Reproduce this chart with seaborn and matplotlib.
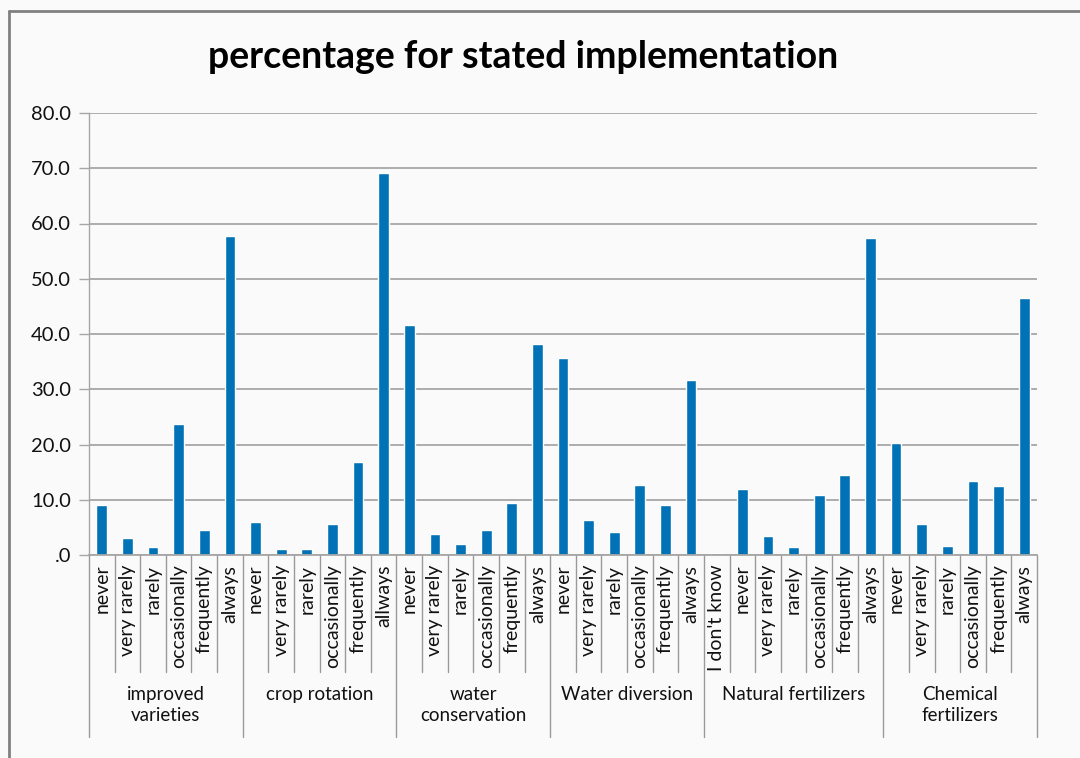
import matplotlib
matplotlib.use("Agg")
import matplotlib.pyplot as plt
import matplotlib.transforms as mtransforms
from matplotlib.lines import Line2D
from matplotlib.ticker import FuncFormatter
import seaborn as sns
import pandas as pd

# ---- data ----
groups = ["improved\nvarieties", "crop rotation", "water\nconservation",
          "Water diversion", "Natural fertilizers", "Chemical\nfertilizers"]
labels_improved = ["never", "very rarely", "rarely", "occasionally", "frequently", "always"]
labels_rotation = ["never", "very rarely", "rarely", "occasionally", "frequently", "allways"]
labels_water_cons = ["never", "very rarely", "rarely", "occasionally", "frequently", "always"]
labels_water_div = ["never", "very rarely", "rarely", "occasionally", "frequently", "always"]
labels_natural = ["I don't know", "never", "very rarely", "rarely", "occasionally", "frequently", "always"]
labels_chemical = ["never", "very rarely", "rarely", "occasionally", "frequently", "always"]

values_improved = [9.0, 3.1, 1.4, 23.7, 4.5, 57.8]
values_rotation = [5.9, 1.0, 1.0, 5.6, 16.9, 69.2]
values_water_cons = [41.7, 3.8, 2.0, 4.5, 9.4, 38.2]
values_water_div = [35.6, 6.3, 4.2, 12.7, 9.0, 31.7]
values_natural = [0.3, 12.0, 3.4, 1.45, 10.8, 14.5, 57.4]
values_chemical = [20.2, 5.6, 1.6, 13.4, 12.4, 46.6]

all_labels = [labels_improved, labels_rotation, labels_water_cons,
              labels_water_div, labels_natural, labels_chemical]
all_values = [values_improved, values_rotation, values_water_cons,
              values_water_div, values_natural, values_chemical]

rows = []
for g, labs, vals in zip(groups, all_labels, all_values):
    for l, v in zip(labs, vals):
        rows.append({"key": f"{g}|{l}", "group": g, "label": l, "value": v})
df = pd.DataFrame(rows)

# ---- style ----
sns.set_theme(style="white")
plt.rcParams["font.family"] = ["Lato", "DejaVu Sans"]
BG = "#fafafa"
BAR = "#0072B5"
GRID = "#a6a6a6"
SEP = "#9a9a9a"
TXT = "#111111"

W, H = 1080, 758
fig = plt.figure(figsize=(W / 100, H / 100), dpi=100, facecolor=BG)
ax = fig.add_axes([89 / W, 1 - 555 / H, (1037 - 89) / W, (555 - 113) / H])
ax.set_facecolor(BG)

sns.barplot(data=df, x="key", y="value", color=BAR, saturation=1,
            width=0.42, ax=ax, errorbar=None)

ax.set_xlim(-0.5, len(df) - 0.5)
ax.set_ylim(0, 80)
ax.set_yticks(range(0, 81, 10))
ax.yaxis.set_major_formatter(FuncFormatter(lambda v, p: f"{v:.1f}" if v != 0 else ".0"))
ax.yaxis.grid(True, color=GRID, linewidth=1.3)
ax.set_axisbelow(True)
ax.set_xlabel("")
ax.set_ylabel("")
for s in ["top", "right"]:
    ax.spines[s].set_visible(False)
ax.spines["left"].set_color(GRID)
ax.spines["bottom"].set_color(GRID)
ax.spines["left"].set_linewidth(1.0)
ax.spines["bottom"].set_linewidth(1.3)
ax.tick_params(axis="y", length=7, color=GRID, width=1.0, labelsize=14.5,
               labelcolor=TXT, pad=6, left=True)

ax.set_xticks(range(len(df)))
ax.set_xticklabels(df["label"], rotation=90, fontsize=14, color=TXT)
ax.tick_params(axis="x", length=0, pad=7)

# separator lines for grouped axis
trans = mtransforms.blended_transform_factory(ax.transData, fig.transFigure)
y_axis = 1 - 555 / H
y_short = 1 - 672 / H
y_long = 1 - 737 / H
start = 0
group_bounds = []
for labs in all_labels:
    group_bounds.append((start, start + len(labs)))
    start += len(labs)
for i in range(len(df) + 1):
    is_group_edge = any(i == a or i == b for a, b in group_bounds)
    ybot = y_long if is_group_edge else y_short
    ax.add_line(Line2D([i - 0.5, i - 0.5], [y_axis, ybot], transform=trans,
                       color=SEP, linewidth=1.0, clip_on=False))

for g, (a, b) in zip(groups, group_bounds):
    ax.text((a + b - 1) / 2, 1 - 686 / H, g, transform=trans, ha="center",
            va="top", fontsize=13.5, color=TXT, linespacing=1.3)

fig.text(523 / W, 1 - 57 / H, "percentage for stated implementation",
         ha="center", va="center", fontsize=27, fontweight="bold", color="#000000")

# outer frame lines (top and left)
fig.add_artist(Line2D([9 / W, 1], [1 - 11 / H, 1 - 11 / H], transform=fig.transFigure,
                      color="#808080", linewidth=2))
fig.add_artist(Line2D([9 / W, 9 / W], [1 - 11 / H, 0], transform=fig.transFigure,
                      color="#808080", linewidth=2))

fig.savefig("out.png", dpi=100, facecolor=BG)
